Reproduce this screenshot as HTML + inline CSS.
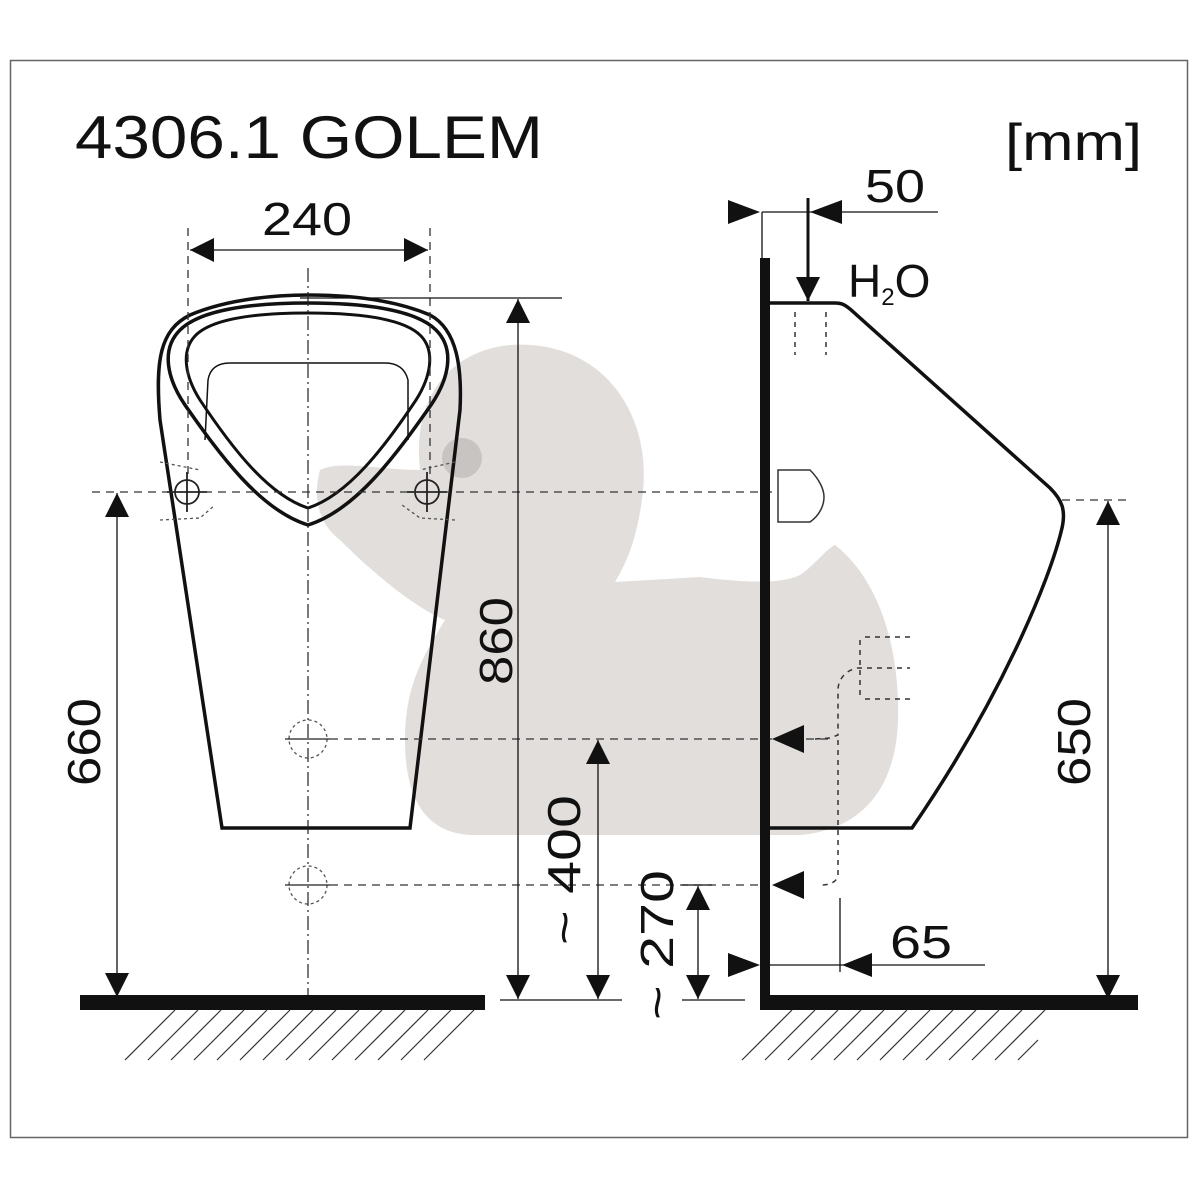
<!DOCTYPE html>
<html><head><meta charset="utf-8"><style>
html,body{margin:0;padding:0;background:#fff}
svg{display:block}
text{font-family:"Liberation Sans",sans-serif;fill:#111}
</style></head><body>
<svg width="1200" height="1200" viewBox="0 0 1200 1200" xmlns="http://www.w3.org/2000/svg">
<defs>
<marker id="a" viewBox="0 0 10 10" refX="10" refY="5" markerWidth="30" markerHeight="24" markerUnits="userSpaceOnUse" orient="auto-start-reverse"><path d="M0,0 L10,5 L0,10 Z" fill="#111"/></marker>
</defs>
<rect x="10.5" y="60.5" width="1177" height="1077" fill="#fff" stroke="#666" stroke-width="1.5"/>

<!-- duck watermark -->
<g fill="#e2dedc">
<path d="M420,470 C410,380 470,340 530,345 C610,350 650,420 643,490 C638,540 625,565 615,582 L700,577 C740,582 780,585 800,575 C815,565 825,550 835,545 C880,580 900,650 898,720 C896,790 860,830 800,835 L470,835 C420,832 405,790 405,740 C405,690 420,660 445,620 C420,610 380,580 340,540 C320,525 312,500 320,470 C340,460 380,470 420,470 Z"/>
</g>
<circle cx="462" cy="458" r="20" fill="#c8c4c2"/>

<!-- title -->
<text x="75" y="158" font-size="60" textLength="468" lengthAdjust="spacingAndGlyphs">4306.1 GOLEM</text>
<text x="1005" y="160" font-size="52" textLength="137" lengthAdjust="spacingAndGlyphs">[mm]</text>

<!-- front view -->
<g fill="none" stroke="#111">
<path d="M222,828 L160,420 C155,360 160,330 190,315 C230,298 280,295 308,295 C340,295 390,298 430,315 C458,330 462,370 460,410 L410,828 Z" stroke-width="3.5"/>
<path d="M308,303 C250,303 200,310 180,330 C160,350 168,380 185,405 C220,455 260,510 308,525 C356,510 396,455 431,405 C448,380 456,350 436,330 C416,310 366,303 308,303 Z" stroke-width="3.5"/>
<path d="M308,313 C258,313 212,318 195,336 C180,352 186,378 200,400 C232,448 268,495 308,508 C348,495 384,448 416,400 C430,378 436,352 421,336 C404,318 358,313 308,313 Z" stroke-width="3"/>
<path d="M205,440 L208,380 C210,368 218,363 230,363 L385,363 C397,363 405,368 408,380 L408,440" stroke-width="1.5"/>
</g>
<line x1="308" y1="268" x2="308" y2="1000" stroke="#222" stroke-width="1.2" stroke-dasharray="14,4,2,4"/>
<g fill="none" stroke="#222" stroke-width="1.8">
<circle cx="187" cy="492" r="12"/><circle cx="427" cy="492" r="12"/>
<line x1="167" y1="492" x2="207" y2="492"/><line x1="187" y1="472" x2="187" y2="512"/>
<line x1="407" y1="492" x2="447" y2="492"/><line x1="427" y1="472" x2="427" y2="512"/>
</g>
<g fill="none" stroke="#555" stroke-width="1.3" stroke-dasharray="3,3">
<circle cx="308" cy="739" r="19"/><circle cx="308" cy="885" r="19"/>
<path d="M160,462 L200,470 M160,520 L200,518 L215,505 M455,462 L420,470 M455,520 L420,518 L402,505"/>
</g>
<line x1="285" y1="739" x2="330" y2="739" stroke="#222" stroke-width="1.3"/>
<line x1="285" y1="885" x2="330" y2="885" stroke="#222" stroke-width="1.3"/>

<g stroke="#333" stroke-width="1.3" stroke-dasharray="8,6" fill="none">
<line x1="92" y1="492" x2="795" y2="492"/>
<line x1="330" y1="739" x2="830" y2="739"/>
<line x1="330" y1="885" x2="770" y2="885"/>
<line x1="188" y1="228" x2="188" y2="480"/>
<line x1="430" y1="228" x2="430" y2="480"/>
<line x1="1062" y1="500" x2="1130" y2="500"/>
</g>

<g stroke="#111" stroke-width="1.3" fill="none">
<line x1="190" y1="250" x2="428" y2="250" marker-end="url(#a)" marker-start="url(#a)"/>
<line x1="300" y1="298" x2="562" y2="298"/>
<line x1="518" y1="299" x2="518" y2="999" marker-start="url(#a)" marker-end="url(#a)"/>
<line x1="117" y1="493" x2="117" y2="997" marker-start="url(#a)" marker-end="url(#a)"/>
<line x1="598" y1="740" x2="598" y2="999" marker-start="url(#a)" marker-end="url(#a)"/>
<line x1="500" y1="1000" x2="622" y2="1000"/>
<line x1="698" y1="886" x2="698" y2="999" marker-start="url(#a)" marker-end="url(#a)"/>
<line x1="682" y1="1000" x2="745" y2="1000"/>
<line x1="682" y1="885" x2="712" y2="885"/>
<line x1="1108" y1="501" x2="1108" y2="999" marker-start="url(#a)" marker-end="url(#a)"/>
<line x1="762" y1="212" x2="762" y2="258"/>
<line x1="762" y1="212" x2="938" y2="212"/>
<line x1="762" y1="965" x2="985" y2="965"/>
<line x1="840" y1="898" x2="840" y2="972"/>
</g>
<g fill="#111">
<path d="M728,200 L760,212 L728,224 Z"/>
<path d="M842,200 L810,212 L842,224 Z"/>
<path d="M728,953 L760,965 L728,977 Z"/>
<path d="M872,953 L842,965 L872,977 Z"/>
<path d="M804,725 L772,739 L804,753 Z"/>
<path d="M804,871 L772,885 L804,899 Z"/>
</g>
<line x1="808" y1="198" x2="808" y2="301" stroke="#111" stroke-width="3" marker-end="url(#a)"/>

<text x="307" y="235" font-size="46" text-anchor="middle" textLength="90" lengthAdjust="spacingAndGlyphs">240</text>
<text transform="translate(512,641) rotate(-90)" font-size="46" text-anchor="middle" textLength="88" lengthAdjust="spacingAndGlyphs">860</text>
<text transform="translate(100,742) rotate(-90)" font-size="46" text-anchor="middle" textLength="88" lengthAdjust="spacingAndGlyphs">660</text>
<text transform="translate(580,870) rotate(-90)" font-size="46" text-anchor="middle" textLength="150" lengthAdjust="spacingAndGlyphs">~ 400</text>
<text transform="translate(673,945) rotate(-90)" font-size="46" text-anchor="middle" textLength="150" lengthAdjust="spacingAndGlyphs">~ 270</text>
<text transform="translate(1090,742) rotate(-90)" font-size="46" text-anchor="middle" textLength="88" lengthAdjust="spacingAndGlyphs">650</text>
<text x="865" y="202" font-size="46" textLength="60" lengthAdjust="spacingAndGlyphs">50</text>
<text x="890" y="958" font-size="46" textLength="62" lengthAdjust="spacingAndGlyphs">65</text>
<text x="848" y="297" font-size="46">H<tspan font-size="24" dy="8">2</tspan><tspan dy="-8">O</tspan></text>

<path d="M770,303 L835,303 C842,303 845,305 850,309 L1050,488 C1062,500 1066,510 1062,528 C1050,580 1000,700 912,828 L770,828" fill="none" stroke="#111" stroke-width="3.5"/>
<path d="M778,470 L810,470 C820,480 824,490 824,497 C824,505 820,515 810,522 L778,522 Z" fill="#fff" stroke="#333" stroke-width="1.5"/>
<g stroke="#333" stroke-width="1.5" stroke-dasharray="5,5" fill="none">
<line x1="795" y1="312" x2="795" y2="355"/><line x1="826" y1="312" x2="826" y2="355"/>
<path d="M815,739 L830,738 L838,735 L838,690 C838,680 845,670 858,668 L910,668"/>
<path d="M865,637 L910,637 M860,640 L860,698 M865,699 L910,699"/>
<path d="M838,740 L838,875 C838,880 832,885 822,885"/>
</g>
<rect x="760" y="258" width="10" height="752" fill="#111"/>
<rect x="760" y="995" width="378" height="15" fill="#111"/>
<rect x="80" y="995" width="405" height="15" fill="#111"/>
<g stroke="#333" stroke-width="1.2">
<path d="M125,1060 L175,1010 M148,1060 L198,1010 M171,1060 L221,1010 M194,1060 L244,1010 M217,1060 L267,1010 M240,1060 L290,1010 M263,1060 L313,1010 M286,1060 L336,1010 M309,1060 L359,1010 M332,1060 L382,1010 M355,1060 L405,1010 M378,1060 L428,1010 M401,1060 L451,1010 M424,1060 L474,1010"/>
<path d="M742,1060 L792,1010 M765,1060 L815,1010 M788,1060 L838,1010 M811,1060 L861,1010 M834,1060 L884,1010 M857,1060 L907,1010 M880,1060 L930,1010 M903,1060 L953,1010 M926,1060 L976,1010 M949,1060 L999,1010 M972,1060 L1022,1010 M995,1060 L1045,1010 M1018,1060 L1038,1040"/>
</g>
</svg>
</body></html>
